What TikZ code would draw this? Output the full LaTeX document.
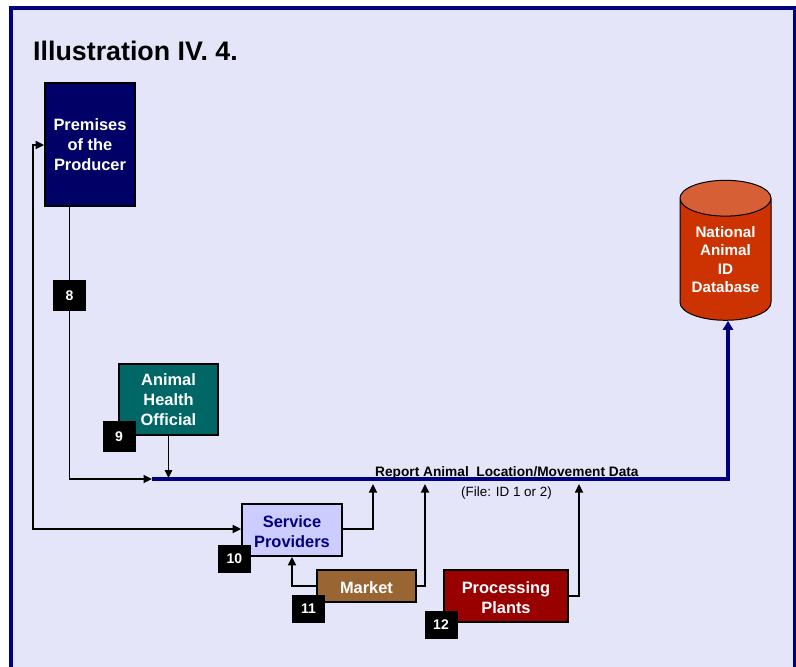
\documentclass[tikz,border=0pt]{standalone}
\usepackage{fontspec}
\setmainfont{Liberation Sans}
\usetikzlibrary{arrows.meta,shapes.geometric}
\definecolor{paneblue}{HTML}{E4E5F9}
\definecolor{framenavy}{HTML}{000080}
\definecolor{prodnavy}{HTML}{000066}
\definecolor{healthteal}{HTML}{006666}
\definecolor{servlilac}{HTML}{CCCCFF}
\definecolor{marketbrown}{HTML}{996633}
\definecolor{plantred}{HTML}{990000}
\definecolor{dbred}{HTML}{CC3300}
\definecolor{dbtop}{HTML}{D65F35}
\newcommand{\lowline}[1]{\raisebox{-1.6pt}[\height][\depth]{#1}}

\begin{document}
\begin{tikzpicture}[x=1pt, y=-1pt,
    main/.style = {draw, line width=1.8pt, align=center, text=white, inner sep=0pt, font=\fontsize{16.4}{20}\selectfont\bfseries},
    badge/.style = {fill=black, text=white, minimum width=33pt, inner sep=0pt, font=\fontsize{14}{16}\selectfont\bfseries},
    link/.style = {line width=1.7pt, -{Triangle[length=8.5pt,width=8pt]}},
    trunk/.style = {line width=3.2pt, framenavy, -{Triangle[length=9pt,width=10pt]}}]
    \clip (0,0) rectangle (796,667);
    \draw[framenavy, line width=4pt, fill=paneblue] (11,8) rectangle (795,700);

    \node[anchor=west, inner sep=0pt, font=\fontsize{26.8}{30}\selectfont\bfseries] (title) at (33,51) {Illustration IV. 4.};

    \node[main, fill=prodnavy, minimum width=90pt, minimum height=123pt] (premises) at (90,144.5) {Premises\\of the\\Producer};
    \node[main, fill=healthteal, minimum width=99pt, minimum height=71pt] (health) at (168.5,399.5) {Animal\\Health\\Official};
    \node[main, fill=servlilac, text=framenavy, minimum width=100pt, minimum height=52pt] (service) at (292,530) {\lowline{Service}\\\lowline{Providers}};
    \node[main, fill=marketbrown, minimum width=99pt, minimum height=32pt] (market) at (366.5,586) {\lowline{Market}};
    \node[main, fill=plantred, minimum width=124pt, minimum height=52pt] (plants) at (506,596) {\lowline{Processing}\\\lowline{Plants}};
    \node[cylinder, shape border rotate=90, aspect=0.53, draw=black, line width=1pt, cylinder uses custom fill, cylinder body fill=dbred, cylinder end fill=dbtop,
        minimum width=91pt, minimum height=140pt, align=center, text=white, inner sep=0pt, font=\fontsize{15.2}{18.4}\selectfont\bfseries] (db) at (725.5,259.5) {National\\Animal\\ID\\Database};

    \coordinate (start) at (152,479);
    \coordinate (sideline) at (33,145);
    \coordinate (servup) at (373,484);
    \coordinate (marketup) at (425,484);
    \coordinate (plantup) at (579,484);

    \draw[trunk] (start) -| ([xshift=2.5pt]db.south);
    \draw[link] ([xshift=-20.5pt]premises.south) |- (start);
    \draw[line width=1pt, -{Triangle[length=8pt,width=7.5pt]}] (health.south) -- (168.5,478);
    \draw[link, {Triangle[length=8.5pt,width=8pt]}-{Triangle[length=8.5pt,width=8pt]}] (premises.west |- sideline) -- (sideline) -- (33,529) -- (service.west |- 0,529);
    \draw[link] (service.east |- 0,529) -| (servup);
    \draw[link] (market.west) -| (service.south);
    \draw[link] (market.east) -| (marketup);
    \draw[link] (plants.east) -| (plantup);

    \node[badge, minimum height=31pt] (b8) at (69.5,295.5) {8};
    \node[badge, minimum height=31pt] (b9) at (119,436.5) {9};
    \node[badge, minimum height=28pt] (b10) at (234.5,559) {10};
    \node[badge, minimum height=28pt] (b11) at (308.5,608.5) {11};
    \node[badge, minimum height=28pt] (b12) at (441,625) {12};

    \node[anchor=west, inner sep=0pt, font=\fontsize{13.7}{15}\selectfont\bfseries] (report) at (375,473) {Report Animal \ Location/Movement Data};
    \node[anchor=west, inner sep=0pt, font=\fontsize{13.4}{15}\selectfont] (file) at (461,493) {(File: ID 1 or 2)};
\end{tikzpicture}
\end{document}
